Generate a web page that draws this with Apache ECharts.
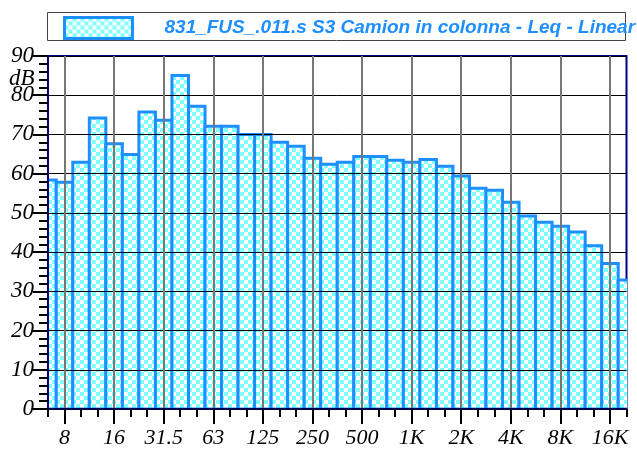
<!DOCTYPE html>
<html>
<head>
<meta charset="utf-8">
<script src="https://cdn.jsdelivr.net/npm/echarts@6/dist/echarts.min.js"></script>
<style>
  html, body { margin: 0; padding: 0; background: #fff; }
  #chart { width: 637px; height: 450px; }
</style>
</head>
<body>
<div id="chart"></div>
<script>
// 1/3 octave bands, 6.3 Hz .. 20 kHz
var bands = ['6.3', '8', '10', '12.5', '16', '20', '25', '31.5', '40', '50', '63', '80',
  '100', '125', '160', '200', '250', '315', '400', '500', '630', '800', '1K', '1.25K',
  '1.6K', '2K', '2.5K', '3.15K', '4K', '5K', '6.3K', '8K', '10K', '12.5K', '16K', '20K'];
var leq = [58.4, 57.8, 62.9, 74.2, 67.6, 64.9, 75.7, 73.6, 85.0, 77.2, 72.1, 72.1,
  70.0, 70.0, 68.0, 67.0, 63.9, 62.4, 62.9, 64.4, 64.4, 63.4, 62.9, 63.6,
  61.9, 59.4, 56.3, 55.8, 52.7, 49.2, 47.6, 46.6, 45.1, 41.6, 37.1, 32.9];
var tickLabels = ['8', '16', '31.5', '63', '125', '250', '500', '1K', '2K', '4K', '8K', '16K'];
var seriesName = '831_FUS_.011.s S3 Camion in colonna - Leq - Linear';

function checker() {
  var c = document.createElement('canvas');
  c.width = 8; c.height = 8;
  var ctx = c.getContext('2d');
  ctx.fillStyle = '#ffffff';
  ctx.fillRect(0, 0, 8, 8);
  ctx.fillStyle = '#80ffff';
  ctx.fillRect(0, 0, 4, 4);
  ctx.fillRect(4, 4, 4, 4);
  return { image: c, repeat: 'repeat' };
}

var fillPattern = checker();
var barBlue = '#1e8fff';
var serif = '"Liberation Serif", "DejaVu Serif", serif';

var majorIdx = [];
tickLabels.forEach(function (t) { majorIdx.push(bands.indexOf(t)); });

var chart = echarts.init(document.getElementById('chart'));

var option = {
  animation: false,
  grid: {
    left: 48,
    right: 10.5,
    top: 56,
    bottom: 41,
    show: true,
    borderColor: '#000080',
    borderWidth: 2
  },
  legend: {
    left: 63,
    top: 16,
    padding: 0,
    itemWidth: 68,
    itemHeight: 21,
    icon: 'rect',
    data: [{
      name: seriesName,
      itemStyle: { color: fillPattern, borderColor: barBlue, borderWidth: 3 }
    }],
    textStyle: {
      color: barBlue,
      fontFamily: '"Liberation Sans", Arial, sans-serif',
      fontStyle: 'italic',
      fontWeight: 'bold',
      fontSize: 19,
      padding: [0, 0, 2, 27]
    }
  },
  graphic: [
    {
      type: 'rect',
      z: -1,
      shape: { x: 47.5, y: 12.5, width: 578, height: 28 },
      style: { fill: 'none', stroke: '#444', lineWidth: 1 }
    },
    {
      type: 'text',
      left: 9,
      top: 67,
      style: { text: 'dB', font: 'italic 23px ' + serif, fill: '#000' }
    }
  ],
  xAxis: [
    {
      type: 'value',
      min: 0,
      max: 35,
      z: 10,
      axisLine: { show: true, lineStyle: { color: '#000050', width: 2 } },
      axisTick: { show: true, customValues: majorIdx, length: 15, lineStyle: { color: '#000', width: 2 } },
      axisLabel: {
        customValues: majorIdx,
        formatter: function (v) { return bands[Math.round(v)]; },
        fontFamily: serif,
        fontStyle: 'italic',
        fontSize: 22,
        color: '#000',
        margin: 18
      },
      splitLine: { show: true, lineStyle: { color: '#777', width: 2 } }
    },
    {
      type: 'value',
      min: 0,
      max: 35,
      interval: 1,
      position: 'bottom',
      z: 10,
      axisLine: { show: false },
      axisTick: { show: true, length: 8, lineStyle: { color: '#000', width: 2 } },
      axisLabel: { show: false },
      splitLine: { show: false }
    }
  ],
  yAxis: {
    type: 'value',
    min: 0,
    max: 90,
    interval: 10,
    z: 10,
    axisLine: { show: true, lineStyle: { color: '#000080', width: 2 } },
    axisTick: { show: true, length: 15, lineStyle: { color: '#000', width: 2 } },
    minorTick: { show: true, splitNumber: 5, length: 9, lineStyle: { color: '#000', width: 2 } },
    axisLabel: {
      fontFamily: serif,
      fontStyle: 'italic',
      fontSize: 23,
      color: '#000',
      margin: 14
    },
    splitLine: { show: true, lineStyle: { color: '#000', width: 1 } }
  },
  series: [{
    name: seriesName,
    type: 'custom',
    clip: true,
    itemStyle: { color: fillPattern, borderColor: barBlue, borderWidth: 3 },
    data: leq.map(function (v, i) { return [i, v]; }),
    renderItem: function (params, api) {
      var i = api.value(0);
      var v = api.value(1);
      var p0 = api.coord([i - 0.5, v]);
      var p1 = api.coord([i + 0.5, 0]);
      return {
        type: 'rect',
        shape: { x: p0[0], y: p0[1], width: p1[0] - p0[0], height: p1[1] - p0[1] },
        style: { fill: fillPattern, stroke: barBlue, lineWidth: 3 }
      };
    }
  }]
};

chart.setOption(option);
window.addEventListener('resize', function () {
  chart.resize();
});
</script>
</body>
</html>
